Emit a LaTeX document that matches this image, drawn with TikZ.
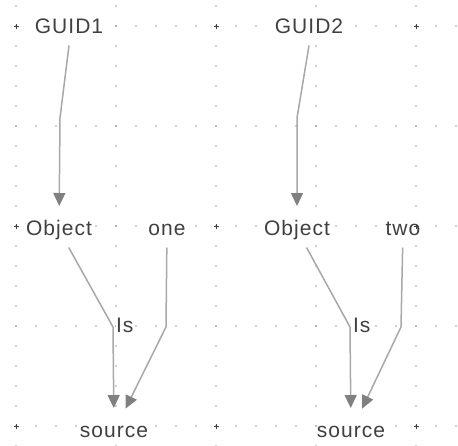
\documentclass[tikz,border=0pt]{standalone}
\usepackage{fontspec}
\setmainfont{Liberation Sans}[LetterSpace=5]
\usetikzlibrary{positioning, arrows.meta}
\definecolor{textgray}{HTML}{404040}
\definecolor{linegray}{HTML}{A8A8A8}
\definecolor{tipgray}{HTML}{808080}
\definecolor{dotgray}{HTML}{A0A0A0}

\begin{document}
\begin{tikzpicture}[
                x=1pt, y=-1pt,
                entity/.style={
                  font=\fontsize{21}{24}\selectfont, text=textgray, fill=white,
                  inner sep=0pt, text height=16pt, text depth=5pt,
                  outer xsep=0pt, outer ysep=7pt
                },
                edgetext/.style={entity, outer ysep=0pt},
                arrow/.style={draw=linegray, line width=1.5pt, shorten >=6.5pt,
                  -{Triangle[length=13pt, width=12pt, color=tipgray]}},
                griddot/.style={fill=dotgray},
                gridmark/.style={draw=textgray, line width=1pt}
              ]

              \path[fill=white] (0,0) rectangle (458,445);
              \useasboundingbox (0,0) rectangle (458,445);

              % dotted grid
              \foreach \gx in {16,116,...,416}
                \foreach \gy in {6,26,...,446}
                  \fill[griddot] (\gx,\gy) circle (0.8pt);
              \foreach \gy in {26,126,...,426}
                \foreach \gx in {16,36,...,456}
                  \fill[griddot] (\gx,\gy) circle (0.8pt);

              \node (guidA) [entity] at (69,28) {GUID1};
              \node (guidB) [entity] at (309,28) {GUID2};
              \node (objA) [entity] at (59,230) {Object};
              \node (oneA) [entity] at (167,230) {one};
              \node (objB) [entity] at (297,230) {Object};
              \node (twoB) [entity] at (403,230) {two};
              \node (srcA) [entity] at (114,432) {source};
              \node (srcB) [entity] at (351,432) {source};

              \coordinate (bendG1) at (60,118);
              \coordinate (bendG2) at (297,118);
              \coordinate (bendA) at (113,327);
              \coordinate (bendOne) at (166,327);
              \coordinate (bendB) at (350,327);
              \coordinate (bendTwo) at (401,327);

              \node (isA) [edgetext, right=3pt of bendA] {Is};
              \node (isB) [edgetext, right=3pt of bendB] {Is};

              % Draw arrows
              \draw[arrow] (guidA.south) -- (bendG1) -- (objA);
              \draw[arrow] (guidB.south) -- (bendG2) -- (objB);
              \draw[arrow] (objA) -- (bendA) -- (srcA);
              \draw[arrow] (oneA) -- (bendOne) -- (srcA);
              \draw[arrow] (objB) -- (bendB) -- (srcB);
              \draw[arrow] (twoB) -- (bendTwo) -- (srcB);

              % grid marks
              \foreach \gx in {16,216,416}
                \foreach \gy in {26,226,426}
                  \draw[gridmark] (\gx-2.5,\gy) -- (\gx+2.5,\gy) (\gx,\gy-2.5) -- (\gx,\gy+2.5);

            \end{tikzpicture}
\end{document}
